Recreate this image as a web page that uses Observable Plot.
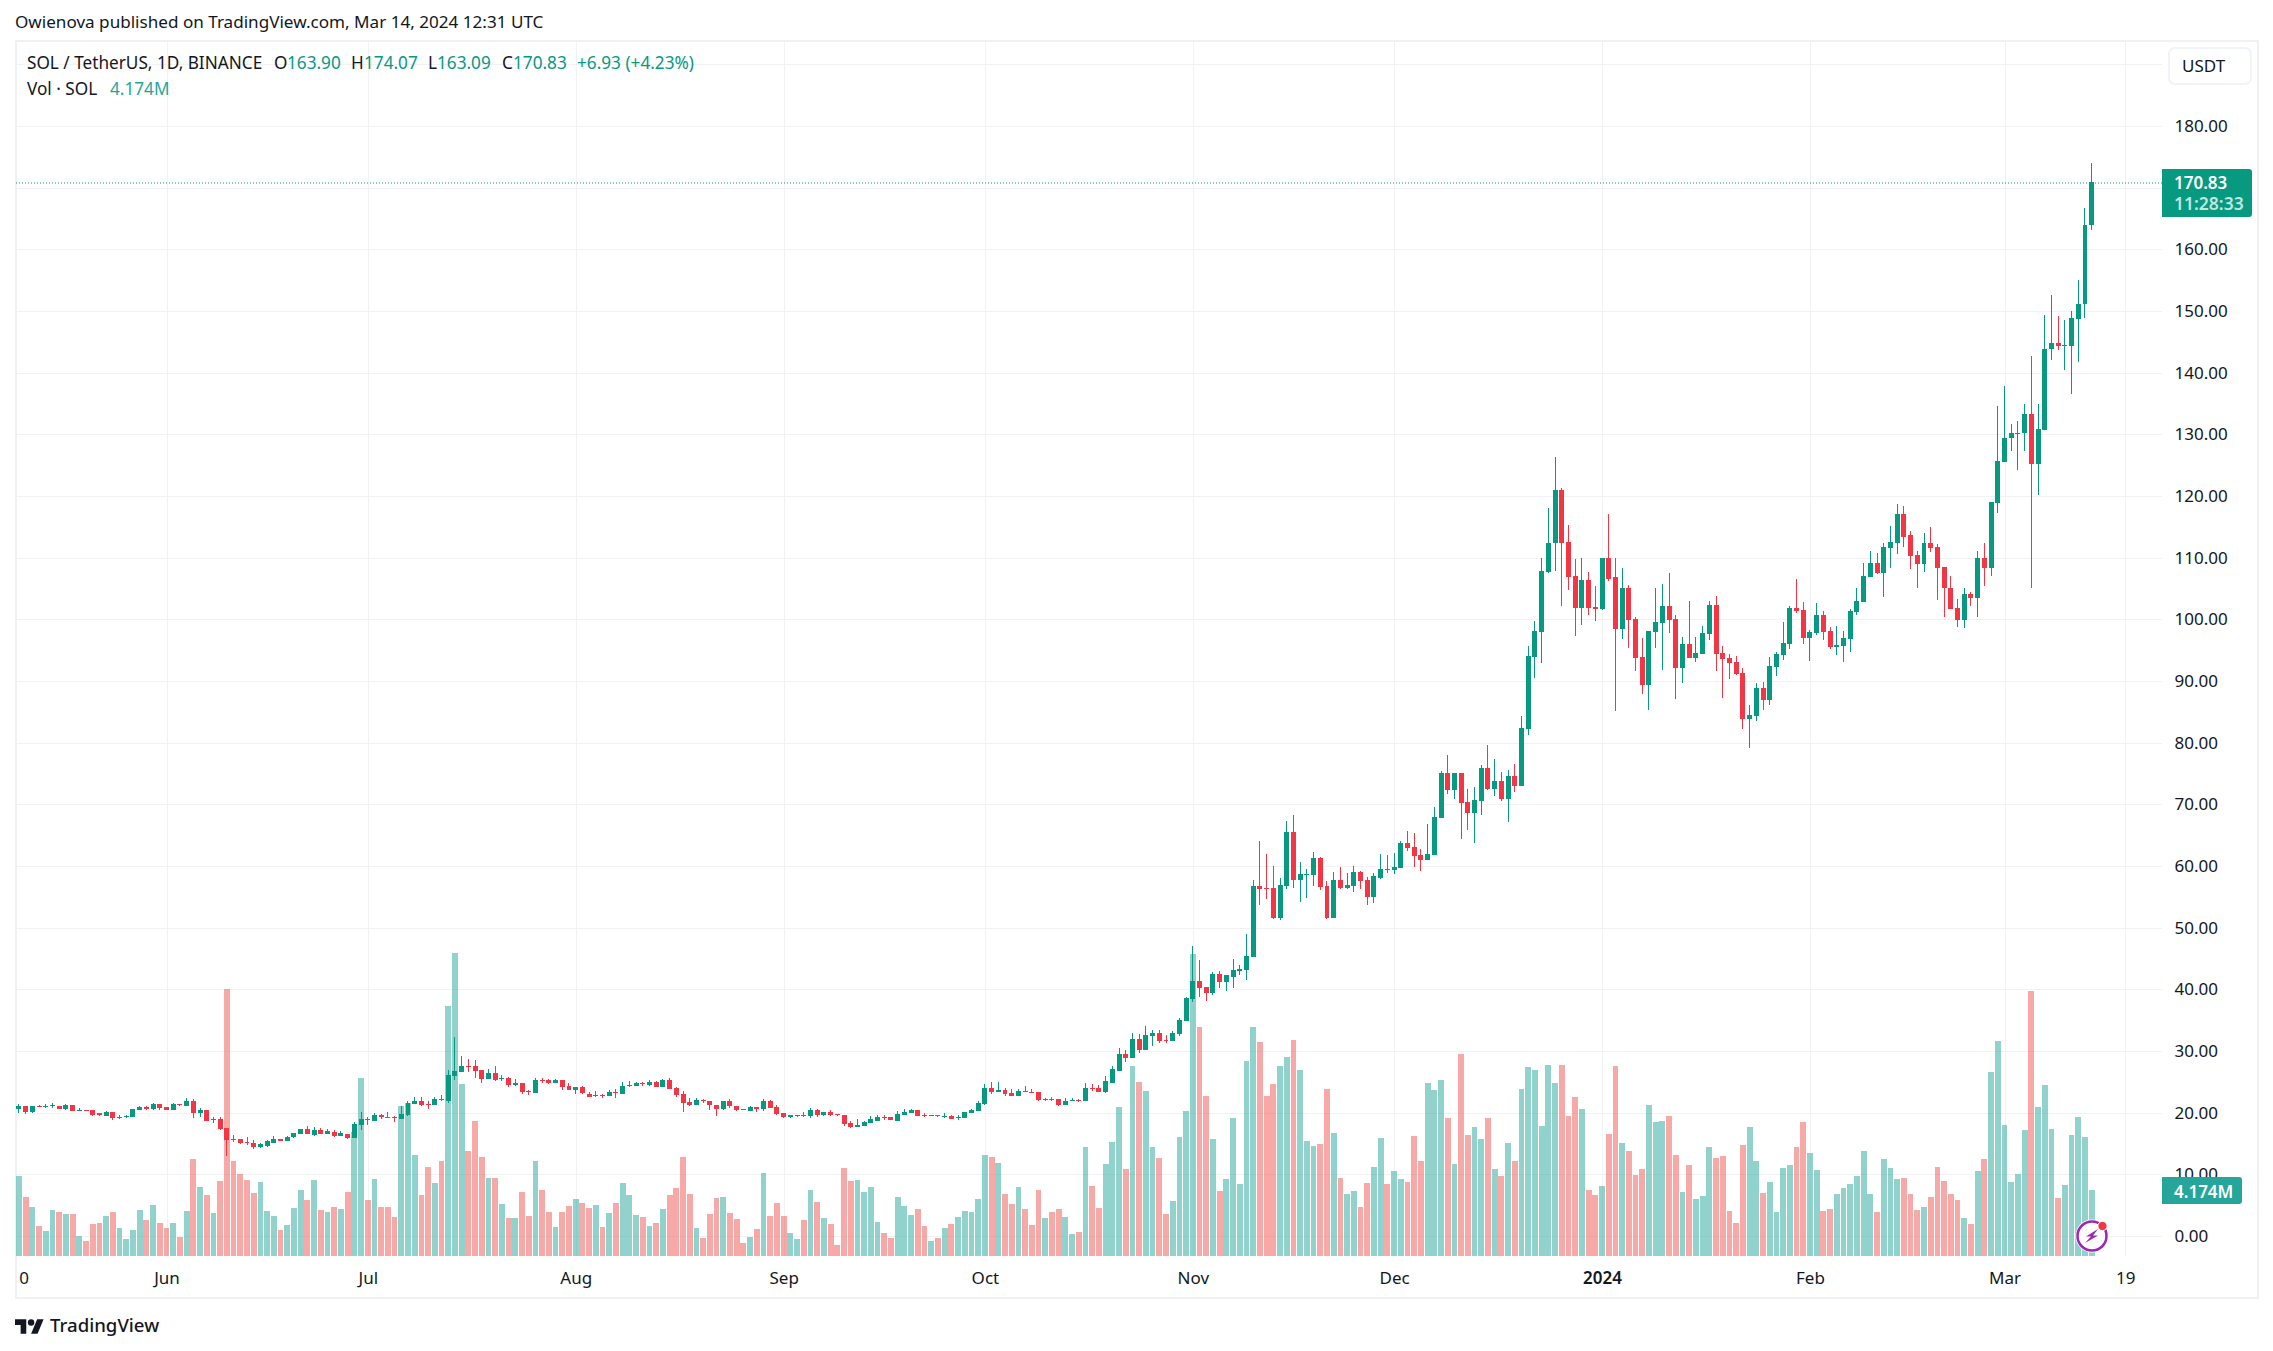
<!DOCTYPE html>
<html><head><meta charset="utf-8">
<script src="https://cdn.jsdelivr.net/npm/d3@7"></script>
<script src="https://cdn.jsdelivr.net/npm/@observablehq/plot@0.6"></script>
<style>
html,body{margin:0;padding:0;background:#fff;overflow:hidden}
#page{position:relative;width:2273px;height:1351px;font-family:"Noto Sans",sans-serif;color:#131722}
#pane{position:absolute;left:15px;top:40px;width:2244px;height:1259px;box-sizing:border-box;border:2px solid #f0f1f5}
#chart{position:absolute;left:0;top:0}
.lb{position:absolute;white-space:nowrap;line-height:1;transform:translateY(-50%)}
.tag{position:absolute;border-radius:0 3px 3px 0}
</style></head><body><div id="page"><div id="pane"></div><div id="chart"></div></div>
<script>
const firstDay = "2023-05-10";
const open = [
20.6,21.03,20.1,21.03,20.95,21,21.03,20.6,21.2,20.27,
20.38,20.4,19.8,19.45,20.05,19.15,19.3,19.3,20.45,20.85,
20.55,21.35,20.9,20.4,21.3,21.1,21.85,19.9,20.4,18.75,
18.9,17.45,15.75,15.75,15.2,15.05,14.45,14.6,15.15,15.7,
15.35,16,16.5,17.3,16.45,17.15,16.5,16.9,16.15,16.6,
15.85,17.95,18.9,18.65,19.55,19.25,19.3,18.9,19.55,21.35,
21.85,21.35,21.2,22.2,21.9,25.9,26.6,27.5,27.5,26.85,
25.4,26.4,25.5,25.55,24.45,24.75,23.5,23.15,25.25,25.25,
24.8,25.25,24.25,23.65,24.1,23.1,22.7,22.85,22.65,23.25,
23,24.25,24.3,24.8,24.55,24.9,24.1,25.25,23.95,22.95,
21.65,21.2,22,21.85,21.3,20.55,21.85,21.15,20.55,20.2,
20.85,20.55,21.85,20.85,19.9,19.25,19.4,19.55,19.4,20.4,
19.55,20.05,19.75,19.55,18.25,17.6,17.8,18.25,18.7,19.35,
19.25,18.7,19.55,19.9,20.4,19.55,19.45,19.55,19.3,19.4,
19.15,19.1,19.9,20.2,21.35,23.95,23.3,23.6,23.15,22.65,
23.45,23.3,23.3,22.05,22.25,22.15,21.2,21.95,22.05,21.85,
23.95,23.95,23.3,24.75,26.8,29.45,28.85,31.9,30.1,32.4,
32.85,31.65,31.55,32.7,34.8,38.4,41.3,40.3,39.35,42.45,
41.15,41.95,42.9,43.1,45.2,56.7,56.4,56.4,51.5,56.7,
65.45,57.7,58.5,58.5,61.25,56.7,51.5,57.7,56.4,56.7,
59,57.7,54.9,58,59.45,59.3,59.6,63.7,63,61.7,
60.9,61.7,67.75,75,72.25,75,70.3,68.55,70.5,75.85,
72.45,73.7,70.8,74.55,72.9,82.2,93.85,97.9,107.75,112.3,
121,112.6,106.95,101.8,106.3,101.95,101.6,110,106.8,98.4,
105,100,93.85,89.3,97.9,99.35,102.1,100,92.05,95.95,
93.7,94.35,97.6,102.25,94.5,93.7,93.05,91.25,83.8,84.3,
88.85,86.9,92.25,94.2,95.95,101.8,101.45,96.9,97.75,100.65,
98.05,95.45,95.6,96.75,101.15,102.75,106.8,109.05,107.45,111.5,
112.45,117,113.6,110.35,108.9,112.3,111.65,108.4,105.15,101.8,
99.85,104.05,103.4,110,108.25,118.85,125.55,129.35,130.1,130.15,
133.3,125.25,130.7,143.75,144.85,144.25,144.25,148.7,151.05,163.9];
const close = [
21.08,20.05,21.03,20.9,21.08,21.08,20.6,21.2,20.27,20.38,
20.27,19.6,19.7,20.05,19.1,19.25,19.4,20.55,20.85,20.55,
21.35,20.7,20.45,21.35,21.2,21.85,19.9,20.45,18.6,18.9,
17.3,15.55,15.6,15.05,15.1,14.4,14.9,15.4,15.7,15.35,
16.1,16.65,17.3,16.5,17.15,16.5,17,16.15,16.7,15.85,
18.1,18.9,18.8,19.55,19.3,19.15,19.2,19.75,21.55,21.85,
21.2,21.25,22.15,22.1,26.05,26.7,27.5,27.4,26.75,25.45,
26.4,25.25,25.6,24.45,24.75,23.3,23.4,25.25,25.15,24.75,
25.25,24.15,23.65,24.1,23.2,22.55,22.8,22.75,23.3,23.2,
24.3,24.4,24.8,24.65,24.9,24.1,25.25,23.8,22.8,21.5,
21.2,22,21.9,21.2,20.55,21.85,21.05,20.4,20.45,20.85,
20.55,21.85,20.7,19.75,19.25,19.55,19.5,19.45,20.4,19.55,
20.05,19.55,19.65,18.1,17.6,17.95,18.45,18.9,19.35,19.2,
18.75,19.75,20.05,20.4,19.4,19.45,19.55,19.45,19.4,19,
19.25,20.05,20.4,21.5,23.95,23.3,23.6,22.95,22.65,23.45,
23.3,23.2,22,22.15,22.1,21.2,21.85,22.05,21.95,23.95,
23.8,23.3,25.1,27,29.45,28.9,31.9,30.1,32.55,32.85,
31.55,31.55,32.85,34.95,38.55,41.3,40.15,39.35,42.45,41.15,
42.25,43.1,43.25,45.35,56.7,56.2,56.2,51.5,56.85,65.45,
57.7,58.65,58.65,61.25,56.55,51.5,57.7,56.4,56.85,59,
57.5,54.9,58.3,59.45,59.35,59.8,63.7,62.85,61.55,60.9,
61.9,67.9,75,72.25,75,70.15,68.55,70.65,75.85,72.45,
73.7,70.8,74.55,72.9,82.4,94,98.05,107.9,112.45,121,
112.45,106.8,101.8,106.3,101.8,101.6,110,106.6,98.4,105,
99.85,93.7,89.3,98.05,99.5,102.1,99.85,92.05,95.95,93.7,
94.5,97.75,102.25,94.35,93.5,92.9,91.1,83.8,84.45,88.85,
86.9,92.4,94.35,96.1,101.8,101.3,96.9,97.9,100.65,97.9,
95.45,95.8,96.9,101.3,102.9,106.95,109.05,107.45,111.65,112.6,
117,113.4,110.2,108.9,112.3,111.5,108.25,105,101.6,99.85,
104.05,103.4,110,108.25,119.1,125.7,129.4,130.15,130.2,133.3,
125.25,130.9,143.85,144.85,144.25,144.35,148.9,151.2,164,170.83];
const high = [
21.35,21.03,21.03,21.3,21.35,21.5,21.15,21.35,21.2,20.7,
20.38,20.5,19.95,20.2,20.15,19.6,19.55,20.55,21.15,21,
21.5,21.35,20.95,21.5,21.35,22.3,22.15,20.8,20.5,19.25,
19.35,17.45,16.3,15.8,16,15.5,15,15.5,16.15,15.8,
16.15,16.75,17.4,17.8,17.6,17.55,17.4,17.15,17,16.6,
18.45,20.05,19.25,19.9,19.8,20.05,19.5,21.05,21.95,22.6,
22.5,21.9,22.5,22.8,26.85,32.2,29.15,28.75,28.5,26.85,
27.05,27.5,26.05,25.85,25.4,24.85,23.6,25.65,25.65,25.5,
25.45,25.25,24.85,24.2,24.4,23.4,23.55,23.05,23.6,23.8,
24.9,25.1,24.9,25,25.25,25.1,25.4,25.55,24.1,23.45,
22.3,22.3,22.2,21.85,21.3,21.85,22.15,21.15,20.55,21.05,
20.85,22.15,22,21.2,19.9,19.65,19.7,20.05,20.7,20.55,
20.05,20.4,19.75,19.55,18.6,18.9,18.6,19.4,19.55,19.55,
19.35,20.2,20.55,20.55,20.45,19.9,19.55,19.7,19.9,19.55,
19.55,20.05,20.55,21.85,24.6,24.9,24.9,23.95,23.8,23.8,
24.25,23.8,23.3,22.45,22.5,22.15,22.3,22.3,22.2,24.75,
24.6,24.45,25.9,27.5,30.45,30.1,32.85,32.7,34,33.35,
33.35,32.55,33.2,35.4,38.7,47,44.7,40.3,42.75,42.9,
42.25,44.85,43.9,48.9,57.7,64,61.9,59.95,58,67.25,
68.2,60.6,59.45,62.2,61.4,57.5,59,59.8,58.8,59.95,
59.15,58.15,58.8,61.9,61.7,62.05,64,65.6,65.3,62.7,
66.75,69.5,75.35,77.95,75,75,72.45,72.75,76.3,79.6,
77.3,75.2,75.5,76.5,84.3,95.6,99.7,110,118.1,126.35,
121.35,115.35,109.7,110,107.6,105.35,110,117,110,108.25,
105.5,100.3,96.9,98.05,105,105.65,107.45,100.65,97.1,102.9,
97.1,98.85,102.9,103.7,95.6,94.35,94,92.05,86.1,89.65,
89.8,93.85,94.65,99.5,102.1,106.6,102.75,98.2,102.6,101.3,
98.7,98.85,98.05,101.6,105,109.2,111,110.7,112.3,115.2,
118.75,118.45,114.25,111.15,114.05,114.9,112.15,108.4,107.1,103.25,
105,104.5,111,112.3,119.1,134.6,137.85,131.7,132.2,134.95,
142.75,134.95,149.4,152.6,149.2,148.6,149.95,155.05,166.7,174.07];
const low = [
19.95,19.8,19.95,20.9,20.75,20.75,20.6,20.5,20.27,20.27,
20.27,19.45,19.45,19.45,18.8,18.9,19.1,19.3,20.4,20.4,
20.5,20.45,20.45,20.4,21.15,21.1,19.15,19.3,18.6,18.3,
17.2,13,15.2,14.85,14.8,14.05,14.2,14.45,15.15,15.35,
15.35,15.9,16.5,16.5,16.15,16.5,16.5,16,16.15,15.75,
15.85,17.2,17.95,18.65,19,19.15,18.5,18.9,19.45,21.35,
21.1,20.55,21.2,21.9,21.55,25.3,26.6,26.6,25.55,24.8,
25.4,25.1,25.1,24.1,24.25,23.1,22.8,23.15,24.85,24.6,
24.8,23.65,23.65,23,23,22.55,22.5,22.45,22.65,22.3,
23,24.15,24.3,24.35,24.3,24.1,24.1,23.8,22.55,20.05,
21.05,21.2,21.55,20.4,19.4,20.4,20.7,20.2,20.4,20.2,
20.05,20.2,20.7,19.55,19.1,19.15,19.25,19.25,19.1,19.25,
19.4,19.4,19.5,17.8,17.45,17.6,17.8,18.25,18.6,18.85,
18.75,18.6,19.55,19.9,19.4,19.25,19.4,19.25,19.1,19,
18.8,19.1,19.9,20.2,21.2,23,23.3,22.65,22.65,22.65,
23.3,23.15,21.85,21.85,21.85,21.1,21.2,21.85,21.75,21.85,
23.5,23.3,23.15,24.75,26.7,28.15,28.85,29.7,30.1,30.75,
31.25,31.25,31.55,32.4,34.8,37.9,38.7,38.05,39,40.15,
39.7,40.15,42.25,41.45,45.2,53.6,54.6,51.35,51.2,56.2,
56.4,54.1,54.75,56.7,56.05,51.35,51.5,56.2,56.2,55.75,
56.2,53.6,53.95,57.85,58.8,58.65,59.6,62.4,59.8,59.15,
60.9,61.7,67.75,71.6,70.8,64.3,65.8,63.65,68.2,72.25,
71.3,70.5,67.1,71.95,72.9,81.2,90.45,92.9,107.45,107.9,
102.1,104.7,97.25,99,100.65,99.7,101.45,106.15,85.1,96.75,
95.3,91.6,87.85,85.3,95.3,91.75,97.75,87.05,89.65,93.7,
93.05,94.35,96.6,91.6,87.2,90.3,90.95,82.2,79.15,83.5,
85.3,86.1,90.8,93.35,95.15,101,95.95,93.2,97.4,96.6,
95.15,94.2,93.05,94.65,100.65,102.75,106.8,107.3,103.55,108.25,
110.65,111.65,108.1,105,107.6,110.85,103.05,100.3,101.6,98.7,
98.55,102.1,100.3,105.35,107,117.2,125.55,127.25,124.25,127.35,
105,120.1,130.7,142.05,143.6,140.5,136.6,141.65,148.8,163.09];
const volume = [
5.08,3.73,3.10,1.90,1.58,2.91,2.78,2.66,2.66,1.27,
0.95,2.03,2.09,2.53,2.78,1.77,1.08,1.65,2.91,2.28,
3.23,2.09,1.77,2.09,1.20,2.85,6.14,4.37,3.86,2.72,
4.75,16.9,6.01,5.19,4.81,3.99,4.68,2.85,2.53,1.65,
1.96,3.04,4.18,3.54,4.81,2.91,2.78,3.10,2.97,4.05,
7.83,11.27,3.54,4.87,3.10,3.10,2.47,9.49,9.68,6.39,
3.86,5.63,4.62,6.01,15.82,19.2,10.89,6.65,8.54,6.27,
4.94,4.94,3.29,2.41,2.41,4.05,2.53,6.01,4.18,2.78,
1.84,2.78,3.16,3.61,3.35,3.04,3.23,1.84,2.72,3.35,
4.62,3.86,2.59,2.47,1.90,2.09,2.97,3.86,4.30,6.27,
3.92,1.77,1.14,2.66,3.67,3.73,2.72,2.34,0.82,1.20,
1.71,5.25,2.53,3.35,2.53,1.46,1.08,2.28,4.18,3.42,
2.41,2.03,0.70,5.57,4.75,4.81,4.05,4.37,2.15,1.46,
1.14,3.73,3.16,2.59,2.97,1.90,0.95,1.14,1.77,2.03,
2.47,2.85,2.78,3.61,6.39,6.27,5.89,3.92,3.29,4.37,
2.97,1.96,4.18,2.41,2.78,2.97,2.47,1.39,1.52,6.90,
4.43,3.04,5.82,7.22,9.43,5.51,12.03,11.01,10.44,6.90,
6.20,2.66,3.48,7.53,9.18,19.1,14.49,10.13,7.41,4.11,
4.87,8.73,4.56,12.34,14.49,13.54,10.13,10.89,12.03,12.59,
13.67,11.77,7.28,6.96,7.09,10.57,7.78,4.94,3.92,4.11,
3.10,4.62,5.63,7.47,4.56,5.38,4.87,4.68,7.59,6.01,
10.95,10.51,11.14,8.73,5.82,12.78,7.66,8.16,7.41,8.73,
5.51,5.06,7.15,6.01,10.57,11.96,11.77,8.23,12.09,10.95,
12.09,8.86,10.06,9.30,4.18,3.86,4.43,7.72,12.03,7.15,
6.65,5.13,5.51,9.56,8.48,8.54,8.86,6.39,4.05,5.76,
3.61,3.80,6.90,6.20,6.33,2.85,2.09,7.03,8.16,6.01,
3.99,4.68,2.78,5.57,5.76,6.90,8.46,6.50,5.42,2.83,
2.95,3.90,4.28,4.54,5.04,6.62,3.90,2.76,6.12,5.55,
4.85,4.92,3.90,2.89,3.08,3.71,5.61,4.73,3.90,3.52,
2.38,2.00,5.36,6.12,11.62,13.59,8.27,4.66,5.17,7.95,
16.75,9.41,10.80,8.02,3.65,4.47,7.64,8.78,7.51,4.174];

const priceTicks = [0,10,20,30,40,50,60,70,80,90,100,110,120,130,140,150,160,180];
const gridPrices = [...priceTicks, 170, 190];
const monthLabels = [["2023-06-01","Jun"],["2023-07-01","Jul"],["2023-08-01","Aug"],["2023-09-01","Sep"],["2023-10-01","Oct"],["2023-11-01","Nov"],["2023-12-01","Dec"],["2024-02-01","Feb"],["2024-03-01","Mar"],["2024-03-19","19"]];
const yearLabel = ["2024-01-01","2024"];
const clippedLabel = ["2023-05-10T16:30:00Z","0"];
const lastClose = 170.83;

const UP="#089981", DOWN="#f23645", VUP="rgba(38,166,154,.5)", VDOWN="rgba(239,83,80,.5)", GRID="#f2f2f4", INK="#131722";
const start = new Date(firstDay+"T00:00:00Z");
const rows = open.map((o,i)=>({date:d3.utcDay.offset(start,i),open:o,high:high[i],low:low[i],close:close[i],volume:volume[i]}));
const up = rows.filter(d=>d.close>=d.open), down = rows.filter(d=>d.close<d.open);
const toDate = s => new Date(s.length===10 ? s+"T00:00:00Z" : s);
const labelMap = new Map([...monthLabels, yearLabel, clippedLabel].map(([d,t])=>[+toDate(d),t]));
const shift = (d,h)=>new Date(+d+h*3600e3);

// volume overlay: baseline at the bottom of the pane, in its own units (M) on the price axis
const yFloor=-3.243, volToPrice=2.562;
const vTop = d=>yFloor+d.volume*volToPrice;
const crisp={shapeRendering:"crispEdges"};
const volBars=(data,fill)=>Plot.rect(data,{x1:d=>shift(d.date,-10.4),x2:d=>shift(d.date,10.4),y1:()=>yFloor,y2:vTop,fill,...crisp});
const wicks=(data,stroke)=>Plot.ruleX(data,{x:"date",y1:"low",y2:"high",stroke,strokeWidth:1,dx:-0.5,...crisp});
const bodies=(data,fill)=>Plot.rect(data,{x1:d=>shift(d.date,-8.9),x2:d=>shift(d.date,8.9),y1:d=>Math.min(d.open,d.close),y2:d=>Math.max(Math.max(d.open,d.close),Math.min(d.open,d.close)+0.17),fill,...crisp});

const axisStyle={anchor:"bottom",tickSize:0,tickPadding:15,color:INK,fontSize:17};
const plot=Plot.plot({
  width:2273,height:1351,marginLeft:16,marginRight:111,marginTop:42,marginBottom:95,
  style:{background:"transparent",fontFamily:'"Noto Sans",sans-serif',fontSize:"17px",color:INK},
  x:{type:"utc",domain:[new Date("2023-05-09T13:30:00Z"),new Date("2024-03-24T11:30:00Z")],axis:null},
  y:{domain:[yFloor,193.61],axis:null},
  marks:[
    Plot.ruleY(gridPrices,{stroke:GRID,strokeWidth:1,...crisp}),
    Plot.ruleX(monthLabels.concat([yearLabel]).map(d=>toDate(d[0])),{stroke:GRID,strokeWidth:1,...crisp}),
    volBars(up,VUP),volBars(down,VDOWN),
    Plot.ruleY([lastClose],{stroke:UP,strokeWidth:1,strokeDasharray:"1 2"}),
    wicks(up,UP),wicks(down,DOWN),bodies(up,UP),bodies(down,DOWN),
    Plot.axisY(priceTicks,{anchor:"right",tickSize:0,tickPadding:12,color:INK,tickFormat:d=>d.toFixed(2),fontSize:17}),
    Plot.axisX(monthLabels.concat([clippedLabel]).map(d=>toDate(d[0])),{...axisStyle,tickFormat:d=>labelMap.get(+d)}),
    Plot.axisX([toDate(yearLabel[0])],{...axisStyle,fontWeight:600,tickFormat:d=>labelMap.get(+d)})
  ]
});
document.getElementById("chart").append(plot);

const page=document.getElementById("page");
function label(text,x,y,color=INK,size=17,weight=400){
  const s=document.createElement("span");s.className="lb";s.textContent=text;
  s.style.cssText=`left:${x}px;top:${y}px;color:${color};font-size:${size}px;font-weight:${weight}`;
  page.append(s);
}
function tag(x,y,w,h,bg){const t=document.createElement("div");t.className="tag";t.style.cssText=`left:${x}px;top:${y}px;width:${w}px;height:${h}px;background:${bg}`;page.append(t);}

label("Owienova published on TradingView.com, Mar 14, 2024 12:31 UTC",15,22,INK,17.1);
const legend=[["SOL / TetherUS, 1D, BINANCE",27,INK],["O",274,INK],["163.90",287,UP],["H",351,INK],["174.07",364,UP],["L",428,INK],["163.09",437,UP],["C",502,INK],["170.83",513,UP],["+6.93 (+4.23%)",577,UP]];
legend.forEach(([t,x,c])=>label(t,x,62.5,c,17.2));
label("Vol · SOL",27,88.5,INK,17.2);label("4.174M",110,88.5,"#26a69a",17.2);

const btn=document.createElement("div");
btn.style.cssText="position:absolute;left:2168px;top:47px;width:84px;height:38px;box-sizing:border-box;border:2px solid #f0f3fa;border-radius:7px";
page.append(btn);label("USDT",2182,65);

tag(2162,169,90,48,UP);
label("170.83",2174,182,"#fff",17,600);label("11:28:33",2174,204,"#bfe6df",17.5,600);
tag(2162,1177,80,27,"#26a69a");
label("4.174M",2174,1191,"#fff",17,600);

const logo=document.createElement("div");
logo.style.cssText="position:absolute;left:15px;top:1317px;width:29px;height:15px";
logo.innerHTML='<svg width="29" height="15" viewBox="0 4 36 18"><path fill="#131722" d="M14 22H7V11H0V4h14v18zM28 22h-8l7.5-18h8L28 22z"/><circle fill="#131722" cx="20" cy="8" r="4"/></svg>';
page.append(logo);
label("TradingView",50,1325,"#131722",18.6,500);

const bolt=document.createElement("div");
bolt.style.cssText="position:absolute;left:2073px;top:1216px;width:40px;height:40px";
bolt.innerHTML='<svg width="40" height="40" viewBox="0 0 40 40"><circle cx="19" cy="20" r="16.5" fill="#fff"/><circle cx="19" cy="20" r="14.5" fill="#fff" stroke="#9c27b0" stroke-width="2.5"/><path fill="#9c27b0" d="M25 13 L13 20.5 L18 20.5 L12 27 L25 19.5 L20 19.5 Z"/><circle cx="29.5" cy="10" r="4.6" fill="#f23645" stroke="#fff" stroke-width="1"/></svg>';
page.append(bolt);
</script></body></html>
